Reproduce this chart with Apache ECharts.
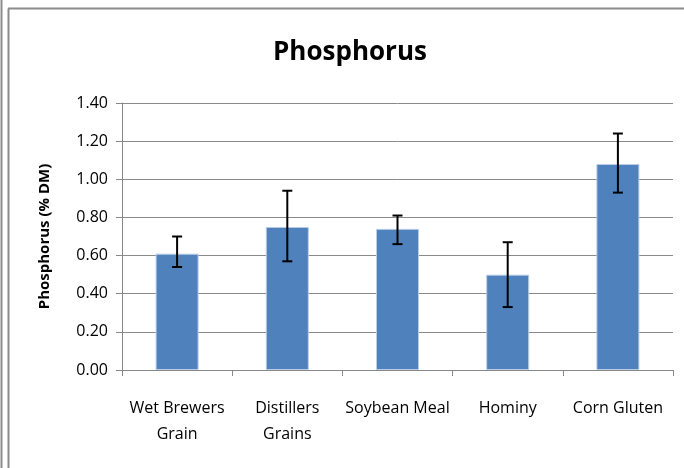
<!DOCTYPE html>
<html><head><meta charset="utf-8">
<script src="https://cdn.jsdelivr.net/npm/echarts@6/dist/echarts.min.js"></script>
<style>html,body{margin:0;padding:0;background:#fff}#c{width:684px;height:468px}</style>
</head><body><div id="c"></div>
<script>
const categories = ['Wet Brewers\nGrain', 'Distillers\nGrains', 'Soybean Meal', 'Hominy', 'Corn Gluten'];
const means = [0.61, 0.75, 0.74, 0.50, 1.08];
const errLow = [0.54, 0.57, 0.66, 0.33, 0.93];
const errHigh = [0.70, 0.94, 0.81, 0.67, 1.24];
const yTicks = [0, 0.2, 0.4, 0.6, 0.8, 1.0, 1.2, 1.4];

const FONT = '"Open Sans", sans-serif';
const chart = echarts.init(document.getElementById('c'), null, {renderer: 'canvas'});
chart.setOption({
  animation: false,
  title: {
    text: 'Phosphorus', left: 268, top: 35,
    textStyle: {fontFamily: FONT, fontSize: 26, fontWeight: 'bold', color: '#000'}
  },
  graphic: [
    {type: 'line', shape: {x1: 1.5, y1: 0, x2: 1.5, y2: 468}, style: {stroke: '#8c8c8c', lineWidth: 2}},
    {type: 'line', shape: {x1: 8.5, y1: 8.5, x2: 8.5, y2: 468}, style: {stroke: '#8c8c8c', lineWidth: 2}},
    {type: 'line', shape: {x1: 8, y1: 8.5, x2: 684, y2: 8.5}, style: {stroke: '#8c8c8c', lineWidth: 2}}
  ],
  grid: {left: 122, right: 11, top: 103, bottom: 98},
  xAxis: {
    type: 'category', data: categories,
    axisLine: {lineStyle: {color: '#888', width: 1}},
    axisTick: {show: true, length: 6, lineStyle: {color: '#888'}},
    axisLabel: {fontFamily: FONT, fontSize: 16, color: '#000', margin: 25, lineHeight: 26, interval: 0}
  },
  yAxis: {
    type: 'value', min: 0, max: 1.4, interval: 0.2,
    name: 'Phosphorus (% DM)', nameLocation: 'middle', nameGap: 70, nameRotate: 90,
    nameTextStyle: {fontFamily: FONT, fontSize: 15, fontWeight: 'bold', color: '#000'},
    axisLine: {show: true, lineStyle: {color: '#888'}},
    axisTick: {show: true, length: 6, lineStyle: {color: '#888'}},
    axisLabel: {fontFamily: FONT, fontSize: 16, color: '#000', margin: 14,
      formatter: v => v.toFixed(2)},
    splitLine: {lineStyle: {color: '#8a8a8a', width: 1}}
  },
  series: [
    {type: 'bar', data: means, barWidth: 43,
     itemStyle: {color: '#4F81BD', borderColor: '#b9cde5', borderWidth: 1}},
    {type: 'custom', z: 5,
     data: errLow.map((lo, i) => [i, lo, errHigh[i]]),
     renderItem: (params, api) => {
       const x = api.value(0);
       const lo = api.coord([x, api.value(1)]);
       const hi = api.coord([x, api.value(2)]);
       const h = 5;
       const st = {stroke: '#000', lineWidth: 2};
       return {type: 'group', children: [
         {type: 'line', shape: {x1: lo[0], y1: lo[1], x2: hi[0], y2: hi[1]}, style: st},
         {type: 'line', shape: {x1: lo[0]-h, y1: lo[1], x2: lo[0]+h, y2: lo[1]}, style: st},
         {type: 'line', shape: {x1: hi[0]-h, y1: hi[1], x2: hi[0]+h, y2: hi[1]}, style: st}
       ]};
     }}
  ]
});
</script></body></html>
